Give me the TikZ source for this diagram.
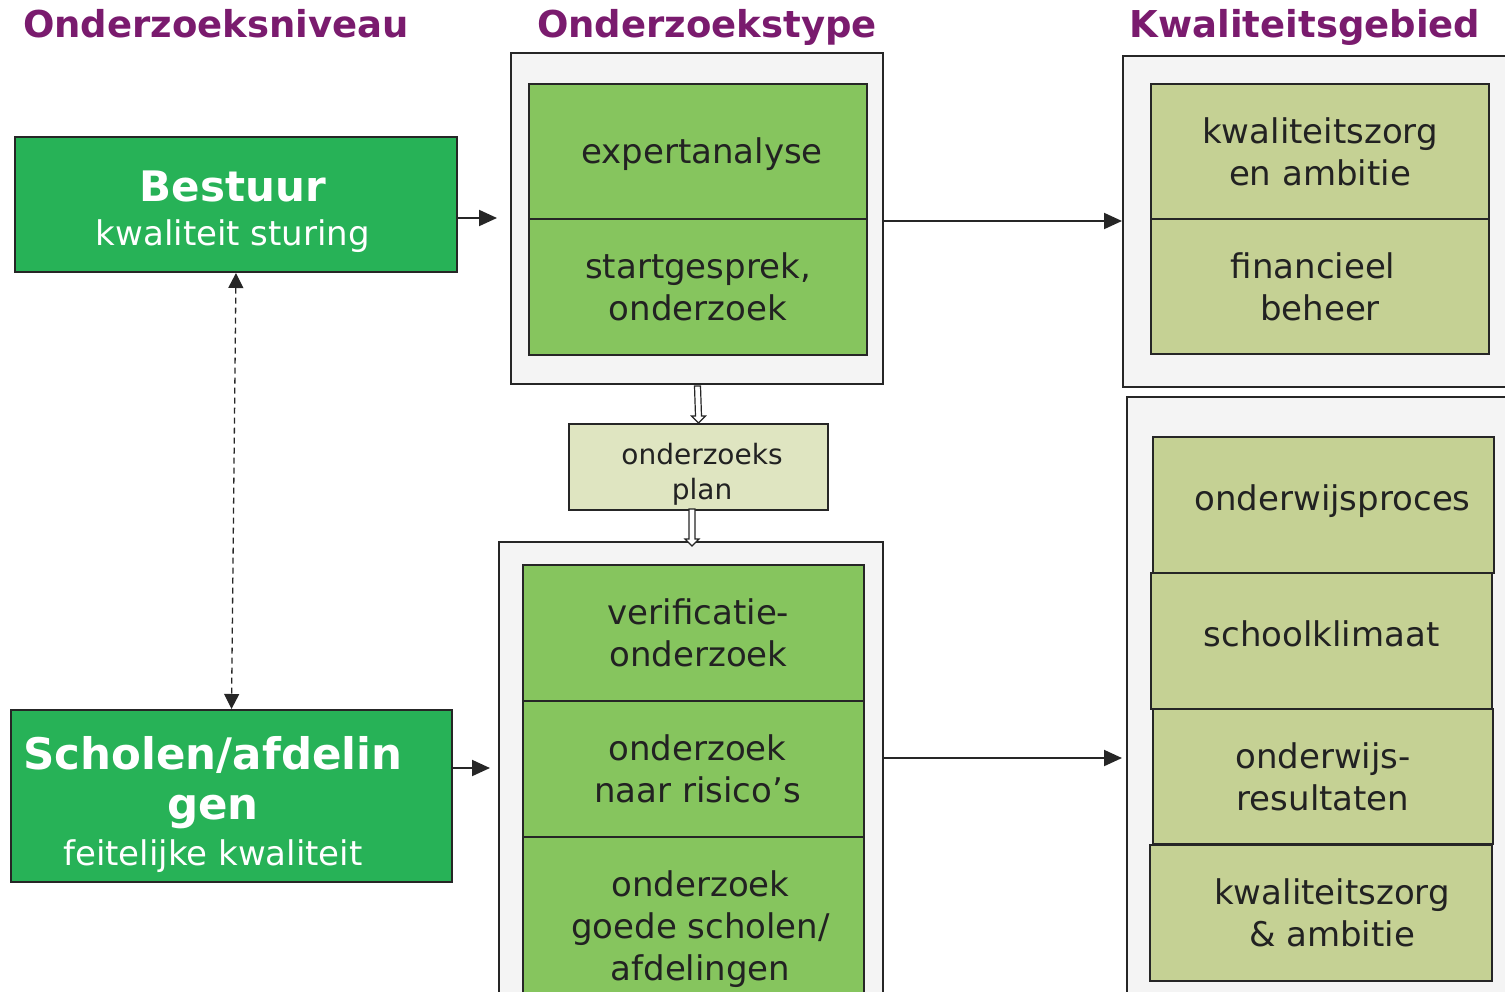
\documentclass[tikz,border=0pt]{standalone}
\usepackage{fontspec}
\setmainfont{DejaVu Sans}
\usetikzlibrary{arrows.meta,calc}
\definecolor{darkgreen}{HTML}{27B257}
\definecolor{midgreen}{HTML}{86C55E}
\definecolor{olive}{HTML}{C5D194}
\definecolor{planc}{HTML}{DFE5C1}
\definecolor{outerc}{HTML}{F4F4F4}
\definecolor{purp}{HTML}{7A1B6E}
\definecolor{textc}{HTML}{222222}
\definecolor{linec}{HTML}{262626}
\newcommand{\bigbf}{\bfseries\fontsize{42}{46}\selectfont}
\newcommand{\schbf}{\bfseries\fontsize{43.5}{48}\selectfont}
\newcommand{\lift}[2]{\raisebox{#1}[\height][\depth]{#2}}
\begin{document}
\begin{tikzpicture}[x=1pt,y=-1pt,
  box/.style={draw=linec, line width=2pt, anchor=north west, inner sep=0pt,
    align=center, text=textc, font=\fontsize{34}{42}\selectfont},
  outerbox/.style={box, fill=outerc},
  greenbox/.style={box, fill=midgreen},
  olivebox/.style={box, fill=olive},
  levelbox/.style={box, fill=darkgreen, text=white},
  txt/.style={align=center, inner sep=0pt, font=\fontsize{34}{42}\selectfont},
  title/.style={text=purp, font=\bfseries\fontsize{37}{44}\selectfont, inner sep=0pt, anchor=base},
  arr/.style={draw=linec, line width=2pt, -{Triangle[length=18pt,width=16pt]}},
  dasharr/.style={draw=linec, line width=1.3pt, dash pattern=on 6pt off 4pt,
    {Triangle[length=15pt,width=15pt]}-{Triangle[length=15pt,width=15pt]}},
  hollow/.style={draw=linec, fill=white, line width=1.2pt, line join=miter}]
\useasboundingbox (0,0) rectangle (1505,991);
\clip (0,0) rectangle (1505,991);

% titles
\node[title] (t1) at (216,37) {Onderzoeksniveau};
\node[title] (t2) at (707,37) {Onderzoekstype};
\node[title] (t3) at (1305,37) {Kwaliteitsgebied};

% level boxes
\node[levelbox, minimum width=442pt, minimum height=135pt] (bestuur) at (14,136) {};
\node[txt, text=white] (bestuurtxt) at (233,211.5)
  {{\bigbf Bestuur}\\[2pt]kwaliteit sturing};
\node[levelbox, minimum width=441pt, minimum height=172pt] (scholen) at (10,709) {};
\node[txt, text=white] (scholentxt) at (213,804)
  {{\schbf Scholen/afdelin}\\[8pt]{\schbf gen}\\[4pt]feitelijke kwaliteit};

% outer boxes
\node[outerbox, minimum width=372pt, minimum height=331pt] (tmo) at (510,52) {};
\node[outerbox, minimum width=384pt, minimum height=500pt] (bmo) at (498,541) {};
\node[outerbox, minimum width=410pt, minimum height=331pt] (tro) at (1122,55) {};
\node[outerbox, minimum width=410pt, minimum height=620pt] (bro) at (1126,396) {};

% onderzoekstype
\node[greenbox, minimum width=338pt, minimum height=135pt] (expert) at (528,83) {\hspace*{8pt}\lift{-3pt}{expertanalyse}};
\node[greenbox, minimum width=338pt, minimum height=136pt] (start) at (528,218) {startgesprek,\\onderzoek};
\node[box, fill=planc, minimum width=259pt, minimum height=86pt] (plan) at (568,423) {};
\node[txt, text=textc, font=\fontsize{28}{35}\selectfont] (plantxt) at (702,474) {onderzoeks\\plan};
\node[greenbox, minimum width=341pt, minimum height=136pt] (verif) at (522,564) {\hspace*{10pt}verificatie-\\\hspace*{10pt}onderzoek};
\node[greenbox, minimum width=341pt, minimum height=136pt] (risico) at (522,700) {\hspace*{8pt}onderzoek\\\hspace*{8pt}naar risico’s};
\node[greenbox, minimum width=341pt, minimum height=184pt] (goede) at (522,836) {\hspace*{14pt}onderzoek\\\hspace*{14pt}goede scholen/\\\hspace*{14pt}afdelingen};

% kwaliteitsgebied
\node[olivebox, minimum width=338pt, minimum height=135pt] (kz1) at (1150,83) {kwaliteitszorg\\en ambitie};
\node[olivebox, minimum width=338pt, minimum height=135pt] (fin) at (1150,218) {\hspace*{-14pt}financieel\\beheer};
\node[olivebox, minimum width=341pt, minimum height=136pt] (owp) at (1152,436) {\hspace*{18pt}\lift{4pt}{onderwijsproces}};
\node[olivebox, minimum width=341pt, minimum height=136pt] (skl) at (1150,572) {\lift{7pt}{schoolklimaat}};
\node[olivebox, minimum width=340pt, minimum height=135pt] (owr) at (1152,708) {onderwijs-\\resultaten};
\node[olivebox, minimum width=342pt, minimum height=136pt] (kz2) at (1149,844) {\hspace*{22pt}kwaliteitszorg\\\hspace*{22pt}\& ambitie};

% connectors
\coordinate (bEnd) at (497,218);
\draw[arr] (bestuur.east |- bEnd) -- (bEnd);
\coordinate (sEnd) at (490,768);
\draw[arr] (scholen.east |- sEnd) -- (sEnd);
\coordinate (yTop) at (0,221);
\draw[arr] (tmo.east |- yTop) -- (tro.west |- yTop);
\coordinate (yBot) at (0,758);
\coordinate (bEndR) at (1122,758);
\draw[arr] (bmo.east |- yBot) -- (bEndR);
\draw[dasharr] (bestuur.south) -- (scholen.north);

% hollow arrows
\coordinate (h1s) at (697.5,386);
\draw[hollow] ($(h1s)+(-3,0)$) -- ($(h1s)+(3,0)$) -- ($(plan.north)+(3,-7)$)
  -- ($(plan.north)+(7,-7)$) -- (plan.north) -- ($(plan.north)+(-7,-7)$)
  -- ($(plan.north)+(-3,-7)$) -- cycle;
\coordinate (h2s) at (692,509);
\coordinate (h2e) at (692,546);
\draw[hollow] ($(h2s)+(-3,0)$) -- ($(h2s)+(3,0)$) -- ($(h2e)+(3,-7)$)
  -- ($(h2e)+(7,-7)$) -- (h2e) -- ($(h2e)+(-7,-7)$)
  -- ($(h2e)+(-3,-7)$) -- cycle;
\end{tikzpicture}
\end{document}
